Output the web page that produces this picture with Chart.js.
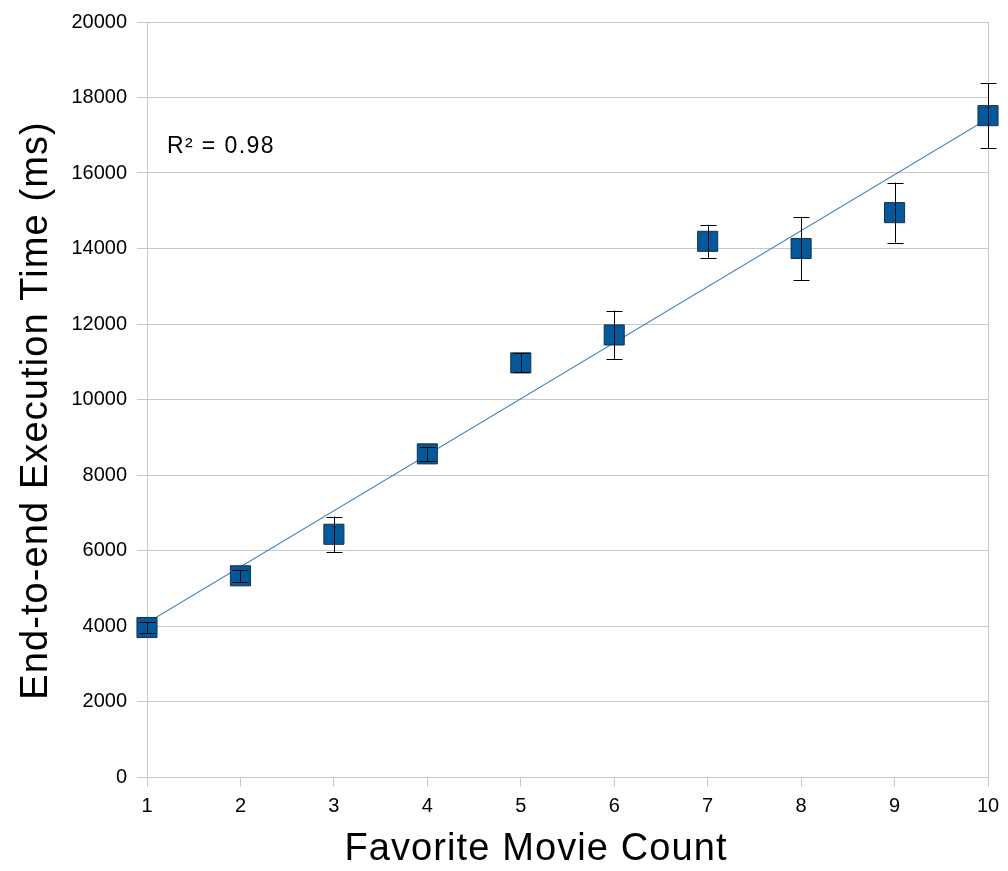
<!DOCTYPE html>
<html>
<head>
<meta charset="utf-8">
<script src="https://cdn.jsdelivr.net/npm/chart.js@4.4.1/dist/chart.umd.min.js"></script>
<style>
  html, body { margin: 0; padding: 0; background: #ffffff; }
  #wrap { width: 1008px; height: 871px; }
</style>
</head>
<body>
<div id="wrap"><canvas id="c" width="1008" height="871"></canvas></div>
<script>
// Favorite movie count vs. mean end-to-end execution time, with error bars
const movieCounts = [1, 2, 3, 4, 5, 6, 7, 8, 9, 10];
const execTimeMs  = [3960, 5330, 6430, 8560, 10970, 11710, 14190, 14000, 14950, 17520];
const errorMs     = [140, 160, 470, 185, 250, 646, 440, 840, 796, 853];
const yTicks      = [0, 2000, 4000, 6000, 8000, 10000, 12000, 14000, 16000, 18000, 20000];
const xAxisTitle  = 'Favorite Movie Count';
const yAxisTitle  = 'End-to-end Execution Time (ms)';
const rSquaredLabel = 'R² = 0.98';

// Least-squares trend line through the measured points
function linearFit(xs, ys) {
  const n = xs.length;
  const mx = xs.reduce((a, b) => a + b, 0) / n;
  const my = ys.reduce((a, b) => a + b, 0) / n;
  let sxy = 0, sxx = 0;
  for (let i = 0; i < n; i++) {
    sxy += (xs[i] - mx) * (ys[i] - my);
    sxx += (xs[i] - mx) * (xs[i] - mx);
  }
  const slope = sxy / sxx;
  return { slope, intercept: my - slope * mx };
}
const fit = linearFit(movieCounts, execTimeMs);
const xFirst = movieCounts[0], xLast = movieCounts[movieCounts.length - 1];
const trendPoints = [
  { x: xFirst, y: fit.intercept + fit.slope * xFirst },
  { x: xLast,  y: fit.intercept + fit.slope * xLast }
];

const points = movieCounts.map((x, i) => ({ x, y: execTimeMs[i] }));

const FONT = "'Liberation Sans', Arial, sans-serif";
const GRID = '#c8c8c8';

// Vertical error bars, drawn over the markers
const errorBarPlugin = {
  id: 'errorBars',
  afterDatasetsDraw(chart) {
    const { ctx, scales: { x, y } } = chart;
    ctx.save();
    ctx.strokeStyle = '#000000';
    ctx.lineWidth = 1;
    const cap = 8;
    points.forEach((p, i) => {
      const px = Math.round(x.getPixelForValue(p.x)) + 0.5;
      const top = y.getPixelForValue(p.y + errorMs[i]);
      const bot = y.getPixelForValue(p.y - errorMs[i]);
      ctx.beginPath();
      ctx.moveTo(px, top); ctx.lineTo(px, bot);
      ctx.moveTo(px - cap, Math.round(top) + 0.5); ctx.lineTo(px + cap, Math.round(top) + 0.5);
      ctx.moveTo(px - cap, Math.round(bot) + 0.5); ctx.lineTo(px + cap, Math.round(bot) + 0.5);
      ctx.stroke();
    });
    ctx.restore();
  }
};

// Axis titles (centred over each axis including its tick labels) and the R² note
const textPlugin = {
  id: 'chartText',
  afterDraw(chart) {
    const { ctx, chartArea, scales: { x } } = chart;
    ctx.save();
    ctx.fillStyle = '#000000';
    ctx.textAlign = 'center';
    ctx.textBaseline = 'alphabetic';
    ctx.font = '38px ' + FONT;
    ctx.letterSpacing = '1.1px';

    // x title: centred between the y tick labels' left edge and the plot's right edge
    const xMid = (x.left - 63 + chartArea.right) / 2;
    ctx.fillText(xAxisTitle, xMid, chartArea.bottom + 83);

    // y title: rotated, centred between the plot top and the x tick labels
    const yMid = (chartArea.top + chartArea.bottom + 22) / 2;
    ctx.save();
    ctx.translate(47, yMid);
    ctx.rotate(-Math.PI / 2);
    ctx.fillText(yAxisTitle, 0, 0);
    ctx.restore();

    ctx.textAlign = 'left';
    ctx.font = '23px ' + FONT;
    ctx.letterSpacing = '1.4px';
    ctx.fillText(rSquaredLabel, chartArea.left + 20, chartArea.top + 131);
    ctx.restore();
  }
};

new Chart(document.getElementById('c'), {
  type: 'scatter',
  data: {
    datasets: [
      {
        type: 'line',
        label: 'Trend',
        data: trendPoints,
        borderColor: '#2f7dbf',
        borderWidth: 1.2,
        pointRadius: 0,
        fill: false,
        order: 2
      },
      {
        label: 'Execution time',
        data: points,
        pointStyle: 'rect',
        pointRadius: 14.2,
        pointHoverRadius: 14.2,
        backgroundColor: '#005a9c',
        borderColor: '#1b2f44',
        borderWidth: 1,
        clip: false,
        order: 1
      }
    ]
  },
  options: {
    responsive: false,
    animation: false,
    events: [],
    layout: { autoPadding: false, padding: { top: 19, right: 20, left: 0, bottom: 0 } },
    plugins: {
      legend: { display: false },
      tooltip: { enabled: false }
    },
    scales: {
      x: {
        type: 'linear',
        min: 1,
        max: 10,
        afterBuildTicks(s) { s.ticks = movieCounts.map(v => ({ value: v })); },
        afterFit(s) { s.height = 94; },
        border: { display: false },
        grid: {
          color: c => (c.index === 0 || c.index === movieCounts.length - 1) ? GRID : 'rgba(0,0,0,0)',
          tickColor: GRID,
          tickLength: 10,
          lineWidth: 1
        },
        ticks: {
          color: '#000000',
          font: { family: FONT, size: 20 },
          padding: 7,
          maxRotation: 0,
          callback: v => String(v)
        },
        title: { display: false }
      },
      y: {
        min: 0,
        max: 20000,
        afterBuildTicks(s) { s.ticks = yTicks.map(v => ({ value: v })); },
        afterFit(s) { s.width = 147; },
        border: { display: false },
        grid: {
          color: GRID,
          tickColor: GRID,
          tickLength: 10,
          lineWidth: 1
        },
        ticks: {
          color: '#000000',
          font: { family: FONT, size: 20 },
          padding: 10,
          callback: v => String(v)
        },
        title: { display: false }
      }
    }
  },
  plugins: [errorBarPlugin, textPlugin]
});
</script>
</body>
</html>
